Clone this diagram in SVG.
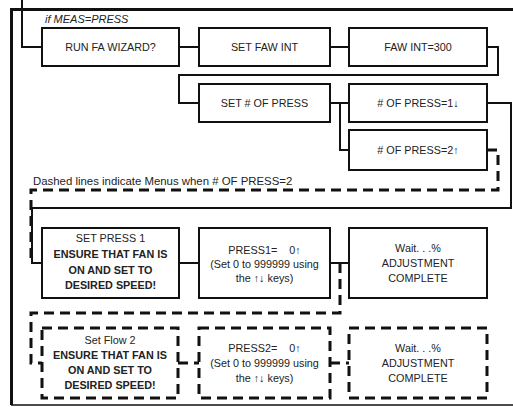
<svg xmlns="http://www.w3.org/2000/svg" width="513" height="407" viewBox="0 0 513 407">
<style>
.box{fill:#fff;stroke:#111;stroke-width:2}
.dbox{fill:#fff;stroke:#111;stroke-width:3;stroke-dasharray:10 6}
.ln{fill:none;stroke:#111;stroke-width:2}
.dl{fill:none;stroke:#111;stroke-width:3;stroke-dasharray:10 6}
.frame{fill:none;stroke:#111;stroke-width:3}
text{font-family:"Liberation Sans",Arial,sans-serif;font-size:10.8px;fill:#222;text-anchor:middle}
.b{font-weight:bold}
.lab{text-anchor:start;font-size:11.4px}
.it{font-style:italic;font-size:11px}
.pre{white-space:pre}
</style>
<rect width="513" height="407" fill="#fff"/>
<g id="frame">
<path class="frame" d="M513,9.5 H11.5 V405"/>
<path class="ln" d="M11,405 H513" style="stroke-width:1.5"/>
</g>
<g id="connectors">
<path class="ln" d="M22,0 V47 H42"/>
<path class="ln" d="M179,47 H199"/>
<path class="ln" d="M330,47 H349"/>
<path class="ln" d="M487,47 H498 V75 H179 V103 H199"/>
<path class="ln" d="M330,103 H349"/>
<path class="ln" d="M340,103 V150 H349"/>
<path class="ln" d="M487,103 H511 V208 H32 V263 H42"/>
<path class="ln" d="M179,263 H199"/>
<path class="ln" d="M330,263 H349"/>
<path class="dl" d="M487,150 H498 V190 H31 V263"/>
<path class="dl" d="M340,263 V313 H31 V363 H42"/>
<path class="dl" d="M178,363 H199"/>
<path class="dl" d="M330,363 H349"/>
</g>
<text class="lab it" x="45" y="23">if MEAS=PRESS</text>
<text class="lab" x="33" y="185">Dashed lines indicate Menus when # OF PRESS=2</text>
<g id="run-fa-wizard"><rect class="box" x="42" y="28" width="137" height="38"/><text x="110.5" y="51">RUN FA WIZARD?</text></g>
<g id="set-faw-int"><rect class="box" x="199" y="28" width="131" height="38"/><text x="264.5" y="51">SET FAW INT</text></g>
<g id="faw-int-300"><rect class="box" x="349" y="28" width="138" height="38"/><text x="418" y="51">FAW INT=300</text></g>
<g id="set-num-press"><rect class="box" x="199" y="84" width="131" height="38"/><text x="264.5" y="107">SET # OF PRESS</text></g>
<g id="num-press-1"><rect class="box" x="349" y="84" width="138" height="38"/><text x="418" y="107"># OF PRESS=1↓</text></g>
<g id="num-press-2"><rect class="box" x="349" y="130" width="138" height="40"/><text x="418" y="154"># OF PRESS=2↑</text></g>
<g id="set-press-1"><rect class="box" x="42" y="228" width="137" height="70"/>
<text x="110.5" y="242">SET PRESS 1</text><text class="b" x="110.5" y="258">ENSURE THAT FAN IS</text><text class="b" x="110.5" y="274">ON AND SET TO</text><text class="b" x="110.5" y="289">DESIRED SPEED!</text></g>
<g id="press1"><rect class="box" x="199" y="228" width="131" height="70"/>
<text class="pre" x="264.5" y="254">PRESS1=    0↑</text><text x="264.5" y="268">(Set 0 to 999999 using</text><text x="264.5" y="282">the ↑↓ keys)</text></g>
<g id="wait-1"><rect class="box" x="349" y="228" width="138" height="70"/>
<text x="418" y="252">Wait. . .%</text><text x="418" y="267">ADJUSTMENT</text><text x="418" y="282">COMPLETE</text></g>
<g id="set-flow-2"><rect class="dbox" x="42" y="328" width="136" height="70"/>
<text x="110" y="344">Set Flow 2</text><text class="b" x="110" y="359">ENSURE THAT FAN IS</text><text class="b" x="110" y="374">ON AND SET TO</text><text class="b" x="110" y="389">DESIRED SPEED!</text></g>
<g id="press2"><rect class="dbox" x="199" y="328" width="131" height="70"/>
<text class="pre" x="264.5" y="352">PRESS2=    0↑</text><text x="264.5" y="367">(Set 0 to 999999 using</text><text x="264.5" y="382">the ↑↓ keys)</text></g>
<g id="wait-2"><rect class="dbox" x="349" y="328" width="138" height="70"/>
<text x="418" y="352">Wait. . .%</text><text x="418" y="367">ADJUSTMENT</text><text x="418" y="382">COMPLETE</text></g>
</svg>
